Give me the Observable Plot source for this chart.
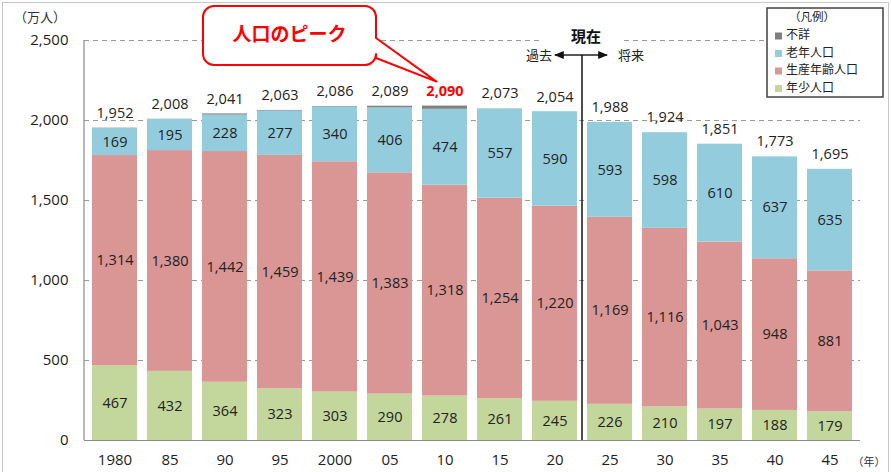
<!DOCTYPE html>
<html><head><meta charset="utf-8">
<script src="https://cdn.jsdelivr.net/npm/d3@7"></script>
<script src="https://cdn.jsdelivr.net/npm/@observablehq/plot@0.6"></script>
<style>
body{margin:0;background:#fff;}
#wrap{position:relative;width:891px;height:472px;overflow:hidden;background:#fff;}
#frame{position:absolute;left:2px;top:2px;width:887px;height:472px;border:1px solid #c8c8c8;box-sizing:border-box;pointer-events:none}
</style></head><body><div id="wrap"><div id="frame"></div></div>
<script>
// ---- data ----
const years   = ["1980","85","90","95","2000","05","10","15","20","25","30","35","40","45"];
const young   = [467,432,364,323,303,290,278,261,245,226,210,197,188,179];
const working = [1314,1380,1442,1459,1439,1383,1318,1254,1220,1169,1116,1043,948,881];
const elderly = [169,195,228,277,340,406,474,557,590,593,598,610,637,635];
const unknown = [2,1,7,4,4,10,20,1,0,0,0,1,0,0];
const totals  = [1952,2008,2041,2063,2086,2089,2090,2073,2054,1988,1924,1851,1773,1695];
const seriesNames  = ["年少人口","生産年齢人口","老年人口","不詳"];
const seriesColors = ["#c3d69b","#d99694","#93cddd","#7f7f7f"];
const legendOrder  = ["不詳","老年人口","生産年齢人口","年少人口"];
const yTicks = [0,500,1000,1500,2000,2500];
const peakYear = "10";
const lastPast = "20", firstFuture = "25";

const seriesArrays = [young, working, elderly, unknown];
const rows = [];
years.forEach((year,i)=>seriesArrays.forEach((arr,k)=>rows.push({year, series:seriesNames[k], value:arr[i]})));
const labelRows = rows.filter(d=>d.series!=="不詳");
const totalRows = years.map((year,i)=>({year,total:totals[i]}));
const fmt = d3.format(",");
const NUM = "'Open Sans','Noto Sans CJK JP',sans-serif";
const JP = "'Noto Sans CJK JP',sans-serif";

const plot = Plot.plot({
  width: 891, height: 472,
  marginTop: 40, marginBottom: 32, marginLeft: 84, marginRight: 31,
  style: {fontFamily: NUM, fontSize: "14px", color:"#222", background:"transparent"},
  x: {domain: years, paddingInner: 0.18, paddingOuter: 0.04, label: null},
  y: {domain: [0,2500], label: null},
  color: {domain: seriesNames, range: seriesColors},
  marks: [
    Plot.ruleY(yTicks.slice(1), {stroke:"#9a9a9a", strokeDasharray:"5,4", strokeWidth:1}),
    Plot.barY(rows, {x:"year", y:"value", fill:"series"}),
    Plot.text(labelRows, Plot.stackY({x:"year", y:"value", z:"series", text:d=>fmt(d.value), fill:"#222", fontSize:14.5})),
    Plot.text(totalRows.filter(d=>d.year!==peakYear), {x:"year", y:"total", text:d=>fmt(d.total), dy:-15, fill:"#222", fontSize:14.5}),
    Plot.text(totalRows.filter(d=>d.year===peakYear), {x:"year", y:"total", text:d=>fmt(d.total), dy:-15, fill:"#ff0000", fontWeight:"bold", fontSize:14.5}),
    Plot.ruleY([0], {stroke:"#8c8c8c", strokeWidth:1.2}),
    Plot.axisY({ticks: yTicks, tickFormat: fmt, tickSize: 0, tickPadding: 16, fontSize: 15}),
    Plot.axisX({tickSize: 0, tickPadding: 14, fontSize: 15})
  ]
});
document.getElementById("wrap").appendChild(plot);
plot.style.position = "absolute"; plot.style.left = "0"; plot.style.top = "0";

// ---- annotations using the plot's scales ----
const sx = plot.scale("x"), sy = plot.scale("y");
const svg = d3.select(plot);
const defs = svg.append("defs");
defs.append("marker").attr("id","arr").attr("viewBox","0 0 10 10").attr("refX",9).attr("refY",5)
  .attr("markerWidth",7).attr("markerHeight",7).attr("orient","auto-start-reverse")
  .append("path").attr("d","M0,1 L10,5 L0,9 z").attr("fill","#111");

const g = svg.append("g").attr("text-anchor","start");
// y axis line
g.append("line").attr("x1",84).attr("x2",84).attr("y1",sy.apply(2500)).attr("y2",sy.apply(0)).attr("stroke","#8c8c8c").attr("stroke-width",1.2);

// divider between past and future
const divX = (sx.apply(lastPast) + sx.bandwidth + sx.apply(firstFuture)) / 2;
g.append("line").attr("x1",divX).attr("x2",divX).attr("y1",55).attr("y2",sy.apply(0)).attr("stroke","#222").attr("stroke-width",1.6);
g.append("line").attr("x1",divX).attr("x2",divX-27).attr("y1",55).attr("y2",55).attr("stroke","#111").attr("stroke-width",1.4).attr("marker-end","url(#arr)");
g.append("line").attr("x1",divX).attr("x2",divX+25).attr("y1",55).attr("y2",55).attr("stroke","#111").attr("stroke-width",1.4).attr("marker-end","url(#arr)");
g.append("rect").attr("x",divX-40).attr("y",26).attr("width",80).attr("height",22).attr("fill","#fff");
g.append("text").attr("x",divX+4).attr("y",38).attr("text-anchor","middle").attr("dominant-baseline","middle")
  .attr("font-family",JP).attr("font-size",15).attr("font-weight","bold").attr("fill","#111").text("現在");
g.append("text").attr("x",divX-30).attr("y",56).attr("text-anchor","end").attr("dominant-baseline","middle")
  .attr("font-family",JP).attr("font-size",13).attr("fill","#222").text("過去");
g.append("text").attr("x",divX+36).attr("y",56).attr("text-anchor","start").attr("dominant-baseline","middle")
  .attr("font-family",JP).attr("font-size",13).attr("fill","#222").text("将来");

// callout
const tipX = sx.apply(peakYear) + sx.bandwidth/2 - 8;
const tipY = sy.apply(totals[years.indexOf(peakYear)]) - 24;
const L=203, T=6, R=376, B=65, r=11;
const path = `M${L+r},${T} H${R-r} A${r},${r} 0 0 1 ${R},${T+r} V38 L${tipX},${tipY} L${R},58 V${B-r} A${r},${r} 0 0 1 ${R-r},${B} H${L+r} A${r},${r} 0 0 1 ${L},${B-r} V${T+r} A${r},${r} 0 0 1 ${L+r},${T} Z`;
g.append("path").attr("d",path).attr("fill","#fff").attr("stroke","#ff0000").attr("stroke-width",2).attr("stroke-linejoin","round");
g.append("text").attr("x",(L+R)/2).attr("y",(T+B)/2).attr("text-anchor","middle").attr("dominant-baseline","middle")
  .attr("font-family",JP).attr("font-size",19).attr("font-weight","bold").attr("fill","#ff0000").text("人口のピーク");

// unit labels
g.append("text").attr("x",40).attr("y",18).attr("text-anchor","middle").attr("dominant-baseline","middle")
  .attr("font-family",JP).attr("font-size",13).attr("fill","#333").text("（万人）");
g.append("text").attr("x",869).attr("y",463).attr("text-anchor","middle").attr("dominant-baseline","middle")
  .attr("font-family",JP).attr("font-size",11).attr("fill","#333").text("（年）");

// legend
const lg = g.append("g");
lg.append("rect").attr("x",767).attr("y",8).attr("width",116).attr("height",89).attr("fill","#fff").attr("stroke","#404040").attr("stroke-width",1.5);
lg.append("text").attr("x",812).attr("y",17.5).attr("text-anchor","middle").attr("dominant-baseline","middle")
  .attr("font-family",JP).attr("font-size",11.5).attr("fill","#222").text("（凡例）");
const colorOf = Object.fromEntries(seriesNames.map((n,i)=>[n,seriesColors[i]]));
legendOrder.forEach((name,i)=>{
  const cy = 36 + i*17.5;
  lg.append("rect").attr("x",775).attr("y",cy-3.5).attr("width",7).attr("height",7).attr("fill",colorOf[name]);
  lg.append("text").attr("x",786).attr("y",cy).attr("text-anchor","start").attr("dominant-baseline","middle")
    .attr("font-family",JP).attr("font-size",12).attr("fill","#222").text(name);
});
</script></body></html>
